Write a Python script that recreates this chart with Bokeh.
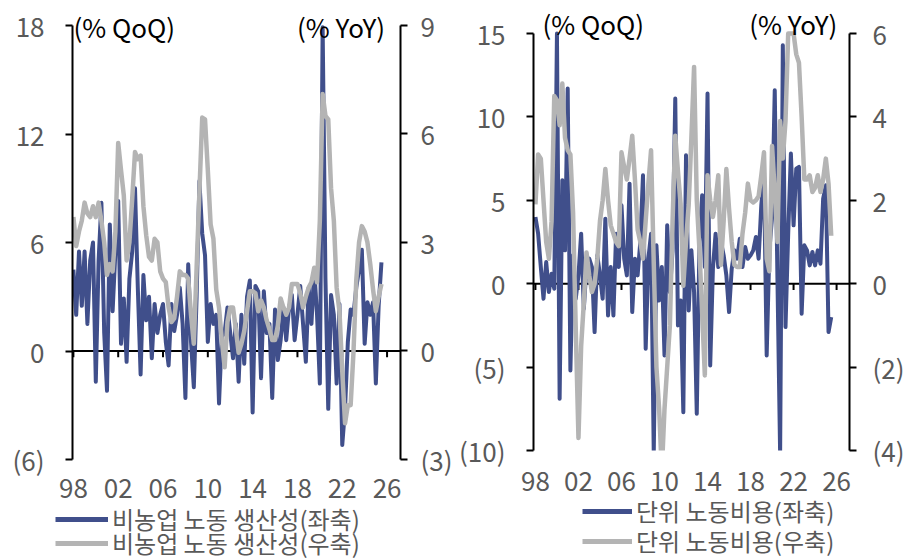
import numpy as np
from bokeh.plotting import figure
from bokeh.models import (Range1d, LinearAxis, FixedTicker, Span, Legend, LegendItem,
                          Label, ColumnDataSource)
from bokeh.layouts import row, column
from bokeh.embed import file_html
from bokeh.resources import INLINE

# ---------------- data (quarterly, 1998Q1 .. 2025Q3) ----------------
start_year = 1998
n_quarters = 111
quarters = [start_year + i / 4 for i in range(n_quarters)]

# Nonfarm labour productivity, % QoQ (left axis)
prod_qoq = [
    4.5, 2.0, 5.5, 2.5,   5.5, 1.5, 5.0, 6.0,   -1.7, 5.0, 8.2, 1.0,   -2.2, 7.0, 2.2, 5.5,
    8.3, 0.4, 2.9, -0.6,  4.0, 5.5, 9.0, 3.5,   -1.3, 4.2, 1.7, 3.0,   -0.4, 2.6, 1.0, 2.0,
    2.6, 0.5, -0.8, 2.6,  1.1, 2.0, 3.5, 1.5,   -2.6, 4.8, 0.5, -2.0,  3.0, 9.4, 6.5, 5.3,
    0.5, 2.6, 1.5, 2.0,   -2.9, 0.8, 1.0, 2.4,  1.0, -0.4, 1.5, -1.7,  2.0, -0.7, 3.0, 3.9,
    -3.4, 3.6, 3.3, -1.5, 3.3, 1.0, 1.5, -2.6,  2.3, -0.5, 0.6, 2.4,   0.6, 2.4, 3.1, 0.6,
    2.0, 3.6, 1.5, -0.6,  3.5, 1.5, 4.5, 2.0,   -1.8, 17.9, 4.0, -3.2, 3.1, 2.0, -1.8, 2.6,
    -5.2, -3.2, 0.5, 2.3, 2.0, 3.5, 4.5, 5.6,   0.4, 2.7, 2.0, 2.7,    -1.8, 2.5, 4.9,
]
# Nonfarm labour productivity, % YoY (right axis)
prod_yoy = [
    3.7, 2.9, 3.3, 3.6,   4.1, 3.8, 3.7, 4.0,   3.7, 4.1, 3.6, 3.0,    2.1, 2.4, 2.2, 3.3,
    5.75, 5.0, 4.3, 2.5,  3.0, 4.2, 5.5, 5.3,   5.4, 4.0, 3.2, 2.6,    2.5, 3.1, 3.0, 2.2,
    2.0, 1.9, 1.2, 0.8,   0.9, 1.5, 2.2, 2.1,   2.1, 2.0, 1.0, 0.2,    2.3, 4.4, 6.45, 6.4,
    5.0, 3.5, 3.1, 1.7,   1.2, 0.3, -0.45, 0.8, 1.2, 1.2, 0.6, -0.05,  0.2, 0.55, 1.1, 1.65,
    1.65, 1.6, 1.1, 1.4,  1.2, 0.85, 0.6, 0.3,  0.3, 0.7, 1.45, 1.2,   1.0, 1.2, 1.85, 1.85,
    1.85, 1.6, 1.2, 1.5,  1.75, 1.9, 2.3, 1.9,  3.6, 7.1, 6.5, 6.4,    4.5, 3.6, 1.75, 1.1,
    -0.55, -2.0, -1.5, -1.5, -0.05, 1.95, 3.0, 3.45, 3.3, 3.0, 2.4, 1.7, 1.1, 1.5, 1.85,
]
# Unit labour costs, % QoQ (left axis)
ulc_qoq = [
    4.0, 3.0, 1.0, -0.9,  1.3, -0.5, 0.6, -0.3, 15.0, -6.9, 6.2, 2.0,  11.7, -5.2, 1.7, -0.9,
    0.5, 3.0, -1.5, 1.1,  1.5, 1.0, -2.9, 1.7,  0.5, -0.9, 3.9, -1.9,  1.0, -1.9, 3.0, 1.0,
    4.7, 1.5, 0.5, 6.0,   -1.7, 1.5, 0.5, 2.5,  6.5, -3.9, 1.5, 3.0,   -10.2, 2.3, -1.0, 1.0,
    -4.3, 3.5, -0.5, 2.0, 11.1, -2.5, -1.0, -7.7, 7.7, -1.6, 2.0, -0.5, -7.8, 2.5, 5.3, 1.0,
    11.4, -4.9, 0.9, 3.0, 1.0, 2.5, 1.7, 0.5,   -1.7, 0.9, 2.0, 1.5,   2.7, 1.0, 2.2, 1.5,
    1.7, 2.0, 2.8, 1.5,   4.7, 6.5, -4.3, 2.0,  4.0, 11.6, 0.3, -10.2, 14.3, -2.6, 3.0, 7.8,
    3.5, 6.9, 7.0, -1.8,  2.3, 2.0, 1.1, 1.9,   1.1, 2.0, 1.2, 5.1,    5.9, -2.9, -2.0,
]
# Unit labour costs, % YoY (right axis; values at the top read as the 6 % ceiling)
ulc_yoy = [
    1.9, 3.1, 3.0, 2.0,   1.0, 0.6, 1.5, 4.5,   4.4, 3.8, 4.8, 3.5,    3.2, 3.1, 1.7, -1.1,
    -3.7, -1.5, -0.45, 0.75, 0.2, -0.2, 0.0, 0.6, 1.5, 2.0, 2.75, 2.0, 1.4, 1.2, 1.0, 0.9,
    3.15, 2.8, 2.5, 3.0,  3.55, 2.5, 1.3, 1.0,  0.6, 1.5, 2.4, 3.2,    0.5, -2.0, -3.0, -4.5,
    -3.0, -2.0, -1.0, 1.5, 3.55, 2.7, 1.9, -0.05, 1.0, 1.9, 3.5, 5.2,  2.0, 0.8, -0.7, -2.2,
    2.6, 2.0, 1.6, 2.0,   2.6, 0.45, 1.5, 2.75, 1.8, 1.0, 0.45, 0.4,   0.4, 1.2, 1.7, 2.4,
    2.0, 1.95, 2.0, 2.1,  2.6, 3.15, 0.6, 0.3,  3.3, 2.2, 1.0, 3.9,    3.0, 3.9, 6.0, 6.0,
    6.0, 5.5, 5.3, 4.0,   2.5, 2.5, 2.6, 2.2,   2.3, 2.6, 2.2, 2.5,    3.0, 2.4, 1.15,
]

x_ticks = [1998, 2002, 2006, 2010, 2014, 2018, 2022, 2026]
x_tick_labels = ["98", "02", "06", "10", "14", "18", "22", "26"]

prod_left_ticks = [-6, 0, 6, 12, 18]
prod_left_labels = ["(6)", "0", "6", "12", "18"]
prod_right_ticks = [-3, 0, 3, 6, 9]
prod_right_labels = ["(3)", "0", "3", "6", "9"]

ulc_left_ticks = [-10, -5, 0, 5, 10, 15]
ulc_left_labels = ["(10)", "(5)", "0", "5", "10", "15"]
ulc_right_ticks = [-4, -2, 0, 2, 4, 6]
ulc_right_labels = ["(4)", "(2)", "0", "2", "4", "6"]

prod_legend = ["비농업 노동 생산성(좌축)", "비농업 노동 생산성(우축)"]
ulc_legend = ["단위 노동비용(좌축)", "단위 노동비용(우축)"]

# ---------------- styling ----------------
FONT = "Noto Sans CJK KR"
BLUE = "#404F8B"
GREY = "#B4B4B4"
TXT = "#595959"
FS = "26px"


def style_y_axis(ax, ticks, labels, standoff):
    ax.ticker = FixedTicker(ticks=ticks)
    ax.bounds = (ticks[0], ticks[-1])
    ax.major_label_overrides = dict(zip(ticks, labels))
    ax.axis_line_color = "black"
    ax.axis_line_width = 2
    ax.major_tick_line_color = "black"
    ax.major_tick_line_width = 2
    ax.major_tick_out = 7
    ax.major_tick_in = 0
    ax.minor_tick_line_color = None
    ax.major_label_standoff = standoff
    ax.major_label_text_font = FONT
    ax.major_label_text_font_size = FS
    ax.major_label_text_color = TXT


def make_panel(qoq, yoy, left_rng, right_rng, lt, ll, rt, rl, x_rng, height, borders,
               qoq_pos, yoy_pos, std_l, std_r, std_x, tick_len):
    bl, br, bt, bb = borders
    p = figure(width=455, height=height, output_backend="svg", toolbar_location=None,
               x_range=Range1d(*x_rng), y_range=Range1d(*left_rng),
               min_border_left=bl, min_border_right=br, min_border_top=bt,
               min_border_bottom=bb)
    p.frame_align = False
    p.extra_y_ranges = {"yoy": Range1d(*right_rng)}
    p.xgrid.visible = False
    p.ygrid.visible = False
    p.outline_line_color = None
    p.background_fill_color = "white"
    p.border_fill_color = "white"

    xa = p.xaxis[0]
    xa.ticker = FixedTicker(ticks=x_ticks)
    xa.major_label_overrides = dict(zip(x_ticks, x_tick_labels))
    xa.axis_line_color = None
    xa.major_tick_line_color = None
    xa.major_tick_out = 0
    xa.major_tick_in = 0
    xa.minor_tick_line_color = None
    xa.major_label_standoff = std_x
    xa.major_label_text_font = FONT
    xa.major_label_text_font_size = FS
    xa.major_label_text_color = TXT

    style_y_axis(p.yaxis[0], lt, ll, std_l)
    ra = LinearAxis(y_range_name="yoy")
    style_y_axis(ra, rt, rl, std_r)
    p.add_layout(ra, "right")

    p.add_layout(Span(location=0, dimension="width", line_color="black",
                      line_width=2, level="underlay"))
    p.segment(x0=x_ticks, y0=[0] * len(x_ticks), x1=x_ticks,
              y1=[-tick_len] * len(x_ticks), line_color="black", line_width=2)

    src = ColumnDataSource(dict(x=quarters, qoq=qoq, yoy=yoy))
    p.line("x", "qoq", source=src, line_color=BLUE, line_width=4, line_join="round")
    p.line("x", "yoy", source=src, y_range_name="yoy", line_color=GREY,
           line_width=4.5, line_join="round")

    p.add_layout(Label(x=qoq_pos[0], y=qoq_pos[1], text="(% QoQ)", text_font=FONT,
                       text_font_size=FS, text_color="black", text_baseline="middle",
                       text_align="left"))
    p.add_layout(Label(x=yoy_pos[0], y=yoy_pos[1], text="(% YoY)", text_font=FONT,
                       text_font_size=FS, text_color="black", text_baseline="middle",
                       text_align="right", y_range_name="yoy"))
    return p


def make_legend_fig(labels, height, x_loc, y_locs, glyph_w):
    f = figure(width=455, height=height, output_backend="svg", toolbar_location=None,
               x_axis_type=None, y_axis_type=None, x_range=Range1d(0, 1),
               y_range=Range1d(0, 1), min_border_left=0, min_border_right=0,
               min_border_top=0, min_border_bottom=0)
    f.frame_align = False
    f.xgrid.visible = False
    f.ygrid.visible = False
    f.outline_line_color = None
    f.border_fill_color = "white"
    # legend proxies (no visible data)
    empty = dict(x=np.array([np.nan]), y=np.array([np.nan]))
    r1 = f.line(x=empty["x"], y=empty["y"], line_color=BLUE, line_width=5)
    r2 = f.line(x=empty["x"], y=empty["y"], line_color=GREY, line_width=5)
    for lab, rend, yl in zip(labels, [r1, r2], y_locs):
        leg = Legend(items=[LegendItem(label=lab, renderers=[rend])],
                     location=(x_loc, yl), orientation="vertical",
                     glyph_width=glyph_w, glyph_height=26, label_height=26,
                     spacing=0, padding=0, margin=0, label_standoff=4,
                     label_text_font=FONT, label_text_font_size="24px",
                     label_text_color=TXT, border_line_alpha=0,
                     background_fill_alpha=0)
        f.add_layout(leg)
    return f


p1 = make_panel(prod_qoq, prod_yoy, (-6, 18.83), (-3, 9.41),
                prod_left_ticks, prod_left_labels, prod_right_ticks, prod_right_labels,
                (1997.92, 2027.2), 504, (72, 52, 10, 45),
                (1998.0, 17.93), (2025.83, 8.96), 21, 13, 19, 0.35)
l1 = make_legend_fig(prod_legend, 54, 55, (22, -2), 53)

p2 = make_panel(ulc_qoq, ulc_yoy, (-10, 16.5), (-4, 6.6),
                ulc_left_ticks, ulc_left_labels, ulc_right_ticks, ulc_right_labels,
                (1997.82, 2027.2), 498, (78, 61, 8, 48),
                (1998.65, 15.63), (2026.07, 6.25), 21, 16, 21, 0.38)
l2 = make_legend_fig(ulc_legend, 60, 127, (30, 0), 50)

layout = row(column(p1, l1, spacing=0), column(p2, l2, spacing=0), spacing=0)
open("out.html", "w").write(file_html(layout, INLINE))
